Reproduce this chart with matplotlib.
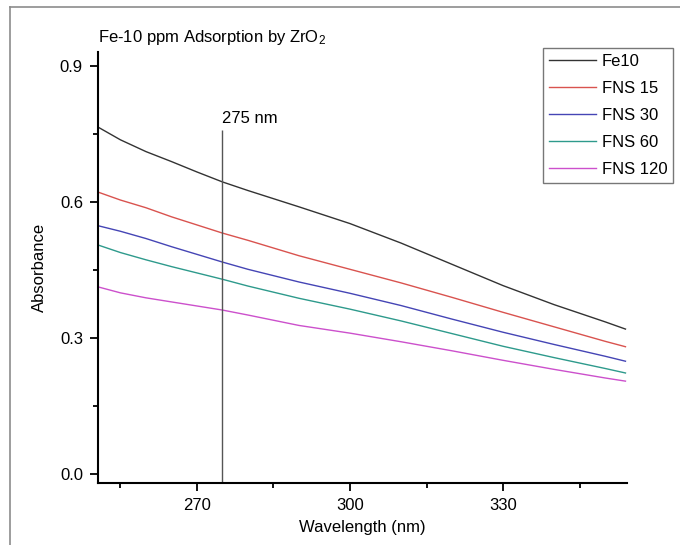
import numpy as np
import matplotlib
matplotlib.use("Agg")
import matplotlib.pyplot as plt
from matplotlib.lines import Line2D
from matplotlib.ticker import MultipleLocator

plt.rcParams['font.family'] = ['Liberation Sans', 'DejaVu Sans']
plt.rcParams['mathtext.fontset'] = 'custom'
plt.rcParams['mathtext.rm'] = 'Liberation Sans'
plt.rcParams['mathtext.it'] = 'Liberation Sans:italic'
plt.rcParams['font.size'] = 12

# absorbance spectra (nm vs. A)
wavelength = [250, 255, 260, 265, 270, 275, 280, 290, 300, 310, 320, 330, 340, 350, 354]
fe10 = [0.770, 0.738, 0.712, 0.690, 0.667, 0.645, 0.626, 0.590, 0.553, 0.510, 0.463, 0.416, 0.374, 0.336, 0.320]
fns15 = [0.625, 0.605, 0.588, 0.568, 0.550, 0.532, 0.516, 0.482, 0.452, 0.422, 0.390, 0.357, 0.325, 0.293, 0.281]
fns30 = [0.550, 0.536, 0.520, 0.502, 0.485, 0.468, 0.452, 0.424, 0.399, 0.372, 0.342, 0.313, 0.286, 0.260, 0.249]
fns60 = [0.508, 0.489, 0.473, 0.458, 0.444, 0.430, 0.415, 0.388, 0.364, 0.338, 0.310, 0.282, 0.257, 0.233, 0.223]
fns120 = [0.415, 0.400, 0.389, 0.380, 0.371, 0.362, 0.351, 0.328, 0.311, 0.292, 0.272, 0.251, 0.231, 0.212, 0.205]

series = [fe10, fns15, fns30, fns60, fns120]
labels = ['Fe10', 'FNS 15', 'FNS 30', 'FNS 60', 'FNS 120']
colors = ['#333333', '#d9534f', '#4545b5', '#2e9a8c', '#cc50cc']

marker_nm = 275
marker_top = 0.76

fig = plt.figure(figsize=(6.8, 5.45), dpi=100)
ax = fig.add_axes([98 / 680, 1 - 483 / 545, (627 - 98) / 680, (483 - 52) / 545])

for y, lab, c in zip(series, labels, colors):
    ax.plot(wavelength, y, color=c, lw=1.0, label=lab)

ax.set_xlim(250.6, 354.3)
ax.set_ylim(-0.02, 0.932)
ax.vlines(marker_nm, -0.02, marker_top, color='#555555', lw=1.0)
ax.text(marker_nm, 0.775, '275 nm', ha='left', va='baseline', fontsize=12)

ax.xaxis.set_major_locator(MultipleLocator(30))
ax.xaxis.set_minor_locator(MultipleLocator(15))
ax.yaxis.set_major_locator(MultipleLocator(0.3))
ax.yaxis.set_minor_locator(MultipleLocator(0.15))
ax.xaxis.set_major_formatter(plt.FuncFormatter(lambda v, p: f'{v:.0f}'))
ax.yaxis.set_major_formatter(plt.FuncFormatter(lambda v, p: f'{v:.1f}'))
ax.tick_params(which='major', direction='out', length=5.8, width=1.3, pad=5, labelsize=12)
ax.tick_params(which='minor', direction='out', length=3.6, width=1.3)

for s in ['top', 'right']:
    ax.spines[s].set_visible(False)
for s in ['left', 'bottom']:
    ax.spines[s].set_linewidth(1.5)

ax.set_xlabel('Wavelength (nm)', fontsize=12, labelpad=5)
ax.set_ylabel('Absorbance', fontsize=12, labelpad=9)

fig.text(98 / 680, 1 - 42 / 545, r'Fe-10 ppm Adsorption by ZrO$_2$',
         ha='left', va='baseline', fontsize=12)

leg = ax.legend(loc='upper right', bbox_to_anchor=(673 / 680, 1 - 48 / 545),
                bbox_transform=fig.transFigure, borderaxespad=0,
                fontsize=12, handlelength=2.8, handletextpad=0.35,
                labelspacing=0.72, borderpad=0.35, fancybox=False)
leg.get_frame().set_edgecolor('#555555')
leg.get_frame().set_linewidth(1.0)

# page border
fig.add_artist(Line2D([10 / 680, 10 / 680], [0, 1 - 7 / 545], transform=fig.transFigure,
                      color='#8c8c8c', lw=1.2))
fig.add_artist(Line2D([10 / 680, 1], [1 - 7 / 545, 1 - 7 / 545], transform=fig.transFigure,
                      color='#8c8c8c', lw=1.2))

fig.savefig('out.png', dpi=100)
